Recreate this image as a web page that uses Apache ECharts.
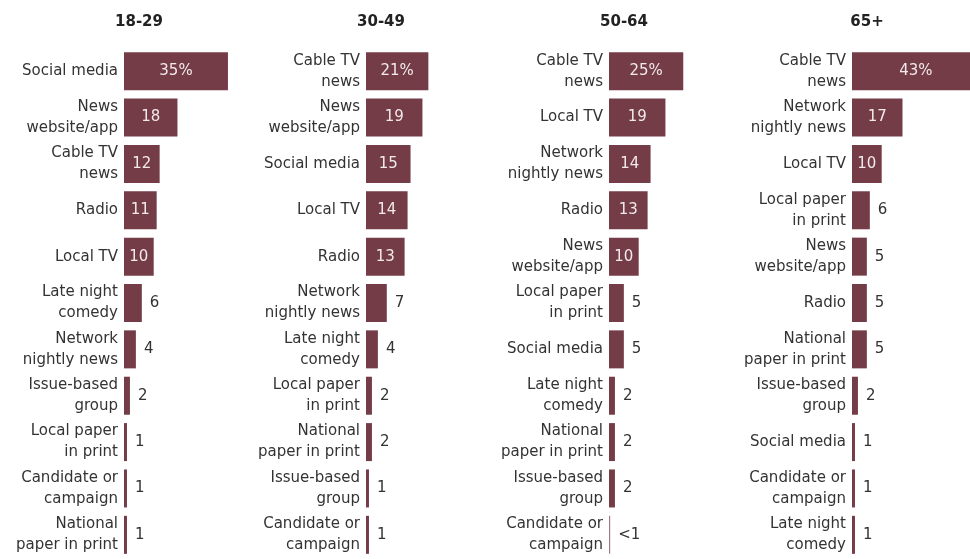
<!DOCTYPE html>
<html>
<head>
<meta charset="utf-8">
<script src="https://cdn.jsdelivr.net/npm/echarts@6/dist/echarts.min.js"></script>
<style>
html,body{margin:0;padding:0;background:#fff;}
#chart{width:970px;height:559px;}
</style>
</head>
<body>
<div id="chart"></div>
<script>
// ---- Data ----
const panelTitles = ["18-29", "30-49", "50-64", "65+"];

const cats1829 = ["Social media", "News\nwebsite/app", "Cable TV\nnews", "Radio", "Local TV", "Late night\ncomedy", "Network\nnightly news", "Issue-based\ngroup", "Local paper\nin print", "Candidate or\ncampaign", "National\npaper in print"];
const vals1829 = [35, 18, 12, 11, 10, 6, 4, 2, 1, 1, 1];
const labs1829 = ["35%", "18", "12", "11", "10", "6", "4", "2", "1", "1", "1"];

const cats3049 = ["Cable TV\nnews", "News\nwebsite/app", "Social media", "Local TV", "Radio", "Network\nnightly news", "Late night\ncomedy", "Local paper\nin print", "National\npaper in print", "Issue-based\ngroup", "Candidate or\ncampaign"];
const vals3049 = [21, 19, 15, 14, 13, 7, 4, 2, 2, 1, 1];
const labs3049 = ["21%", "19", "15", "14", "13", "7", "4", "2", "2", "1", "1"];

const cats5064 = ["Cable TV\nnews", "Local TV", "Network\nnightly news", "Radio", "News\nwebsite/app", "Local paper\nin print", "Social media", "Late night\ncomedy", "National\npaper in print", "Issue-based\ngroup", "Candidate or\ncampaign"];
const vals5064 = [25, 19, 14, 13, 10, 5, 5, 2, 2, 2, 0.4];
const labs5064 = ["25%", "19", "14", "13", "10", "5", "5", "2", "2", "2", "<1"];

const cats65 = ["Cable TV\nnews", "Network\nnightly news", "Local TV", "Local paper\nin print", "News\nwebsite/app", "Radio", "National\npaper in print", "Issue-based\ngroup", "Social media", "Candidate or\ncampaign", "Late night\ncomedy"];
const vals65 = [43, 17, 10, 6, 5, 5, 5, 2, 1, 1, 1];
const labs65 = ["43%", "17", "10", "6", "5", "5", "5", "2", "1", "1", "1"];

const insideThreshold = 10;

// ---- Build chart ----
const panels = [
  {cats: cats1829, vals: vals1829, labs: labs1829},
  {cats: cats3049, vals: vals3049, labs: labs3049},
  {cats: cats5064, vals: vals5064, labs: labs5064},
  {cats: cats65, vals: vals65, labs: labs65}
];
const barStarts = [124, 366, 609, 852];
const pxPerUnit = 2.97;
const axisMax = 45;
const FONT = "DejaVu Sans";
const barColor = "#733c47";

const grids = [], xAxes = [], yAxes = [], series = [], titles = [];
panels.forEach((p, i) => {
  grids.push({left: barStarts[i], top: 48, height: 510, width: axisMax * pxPerUnit, containLabel: false, outerBoundsMode: 'none'});
  xAxes.push({type: 'value', gridIndex: i, min: 0, max: axisMax, show: false});
  yAxes.push({
    type: 'category', gridIndex: i, data: p.cats, inverse: true,
    axisLine: {show: false}, axisTick: {show: false}, splitLine: {show: false},
    axisLabel: {color: '#333', fontFamily: FONT, fontSize: 15, lineHeight: 21, margin: 6, align: 'right'}
  });
  series.push({
    type: 'bar', xAxisIndex: i, yAxisIndex: i, barWidth: 38,
    itemStyle: {color: barColor},
    data: p.vals.map((v, j) => ({
      value: v,
      itemStyle: v < 1 ? {color: '#a47c85'} : undefined,
      label: {
        show: true,
        formatter: p.labs[j],
        position: v >= insideThreshold ? 'inside' : 'right',
        distance: 8,
        color: v >= insideThreshold ? '#f2e9eb' : '#333',
        fontFamily: FONT, fontSize: 15
      }
    }))
  });
  titles.push({
    text: panelTitles[i], left: barStarts[i] + 10, top: 10, textAlign: 'center',
    textStyle: {fontFamily: FONT, fontSize: 15, fontWeight: 'bold', color: '#222'}
  });
});

const chart = echarts.init(document.getElementById('chart'), null, {renderer: 'canvas'});
chart.setOption({
  animation: false,
  title: titles,
  grid: grids,
  xAxis: xAxes,
  yAxis: yAxes,
  series: series
});
</script>
</body>
</html>
